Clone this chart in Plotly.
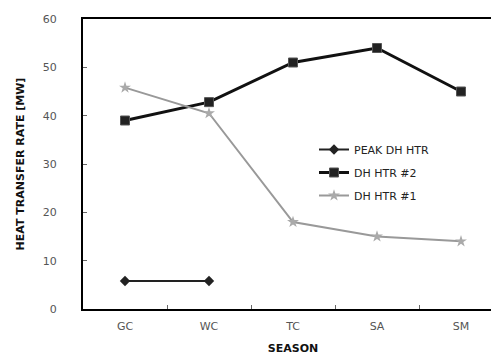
import plotly.graph_objects as go

seasons = ["GC", "WC", "TC", "SA", "SM"]
peak_dh_htr = [5.8, 5.8, None, None, None]
dh_htr_2 = [39, 42.8, 51, 54, 45]
dh_htr_1 = [45.8, 40.5, 18, 15, 14]
y_ticks = [0, 10, 20, 30, 40, 50, 60]

fig = go.Figure()
fig.add_trace(go.Scatter(x=seasons, y=peak_dh_htr, name="PEAK DH HTR", mode="lines+markers",
                         legendgroup="a",
                         line=dict(color="#222222", width=2),
                         marker=dict(symbol="diamond", size=8, color="#222222")))
fig.add_trace(go.Scatter(x=seasons, y=dh_htr_2, name="DH HTR #2", mode="lines+markers",
                         legendgroup="b",
                         line=dict(color="#111111", width=3),
                         marker=dict(symbol="square", size=9, color="#222222",
                                     line=dict(color="#555555", width=1))))
fig.add_trace(go.Scatter(x=seasons, y=dh_htr_1, name="DH HTR #1", mode="lines+markers",
                         legendgroup="c",
                         line=dict(color="#999999", width=2),
                         marker=dict(symbol="star", size=9, color="#aaaaaa")))

fig.update_layout(
    width=499, height=360,
    margin=dict(l=75, r=2, t=11, b=59),
    paper_bgcolor="white", plot_bgcolor="white",
    font=dict(family="DejaVu Sans", color="#333333"),
    showlegend=True,
    legend=dict(x=0.55, y=0.6, xanchor="left", yanchor="top",
                bgcolor="rgba(0,0,0,0)", font=dict(size=11, color="#222222"),
                traceorder="grouped", tracegroupgap=4),
    xaxis=dict(type="category", range=[-0.5, 4.5], showline=True, linecolor="black",
               linewidth=2, mirror=True, ticks="inside", ticklen=4, tickcolor="#666666",
               showgrid=False, tickfont=dict(size=11, color="#555555"),
               tickson="boundaries", ticklabelstandoff=6,
               title=dict(text="<b>SEASON</b>", font=dict(size=11, color="#111111"), standoff=12)),
    yaxis=dict(range=[0, 60], tickvals=y_ticks, showline=True, linecolor="black",
               linewidth=2, mirror=True, ticks="inside", ticklen=4, tickcolor="#666666",
               showgrid=False, zeroline=False, tickfont=dict(size=11, color="#555555"),
               ticklabelstandoff=22,
               title=dict(text="<b>HEAT TRANSFER RATE [MW]</b>", font=dict(size=11, color="#111111"), standoff=16)),
)

fig.write_html("out.html")
